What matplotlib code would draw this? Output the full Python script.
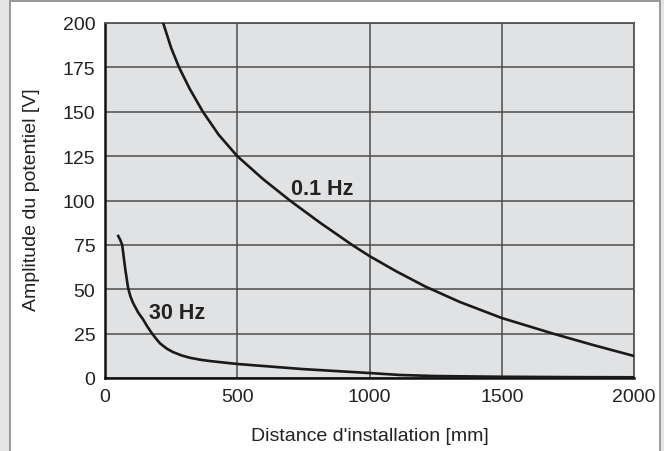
import matplotlib
matplotlib.use("Agg")
import matplotlib.pyplot as plt
from matplotlib.patches import Rectangle

plt.rcParams['font.family'] = ['Liberation Sans', 'DejaVu Sans']

# 0.1 Hz curve (distance mm, amplitude V)
dist_01 = [220, 250, 280, 320, 370, 430, 500, 598, 699, 813, 934, 1000, 1100, 1210, 1342, 1500, 1694, 1845, 2000]
amp_01 = [200, 186, 175, 163, 150, 137, 125, 112, 100, 87.5, 75, 68.7, 60.2, 51.6, 42.8, 33.8, 25, 18.6, 12.4]

# 30 Hz curve
dist_30 = [50, 57, 65, 76, 87, 96, 106, 125, 144, 160, 178, 194, 208, 234, 257, 290, 321, 360, 400, 500, 750, 1000, 1115, 1250, 1500, 1750, 2000]
amp_30 = [80, 78, 75, 62, 51, 46, 42.3, 37, 33, 29, 25, 22, 19.5, 16.5, 14.6, 12.7, 11.4, 10.3, 9.5, 7.9, 5, 2.8, 1.7, 1.1, 0.7, 0.5, 0.4]

xticks = [0, 500, 1000, 1500, 2000]
yticks = [0, 25, 50, 75, 100, 125, 150, 175, 200]

fig = plt.figure(figsize=(6.64, 4.52), dpi=100)
fig.patch.set_facecolor('#e4e4e4')
panel = Rectangle((10/664, -0.02), 650/664, 1.02 - 2/452, transform=fig.transFigure,
                  facecolor='white', edgecolor='#8a8a8a', lw=1.2, zorder=-5)
fig.patches.append(panel)

ax = fig.add_axes([105/664, 1 - 379/452, (634-105)/664, (379-24)/452])
ax.set_zorder(2)
ax.set_facecolor('#e1e2e4')
ax.set_xlim(0, 2000)
ax.set_ylim(0, 200)
ax.set_xticks(xticks)
ax.set_yticks(yticks)
ax.tick_params(length=0, labelsize=14, pad=7, colors='#222222')
ax.grid(True, color='#4d4d4d', lw=1.1)
ax.set_axisbelow(True)
for s in ['top', 'right']:
    ax.spines[s].set_color('#555555')
    ax.spines[s].set_linewidth(1.3)
for s in ['left', 'bottom']:
    ax.spines[s].set_color('#111111')
    ax.spines[s].set_linewidth(1.8)

ax.plot(dist_01, amp_01, color='#1a1a1a', lw=1.9, solid_joinstyle='round', zorder=3)
ax.plot(dist_30, amp_30, color='#1a1a1a', lw=1.9, solid_joinstyle='round', zorder=3)

ax.text(703, 107, '0.1 Hz', fontsize=15.5, fontweight='bold', va='center', ha='left', color='#222222')
ax.text(166, 37, '30 Hz', fontsize=15.5, fontweight='bold', va='center', ha='left', color='#222222')

fig.text(370/664, 1 - 437/452, "Distance d'installation [mm]", fontsize=14, ha='center', va='center', color='#222222')
fig.text(32/664, 1 - 200/452, "Amplitude du potentiel [V]", fontsize=14, ha='center', va='center', rotation=90, color='#222222')

fig.savefig('out.png', dpi=100, facecolor=fig.get_facecolor())
